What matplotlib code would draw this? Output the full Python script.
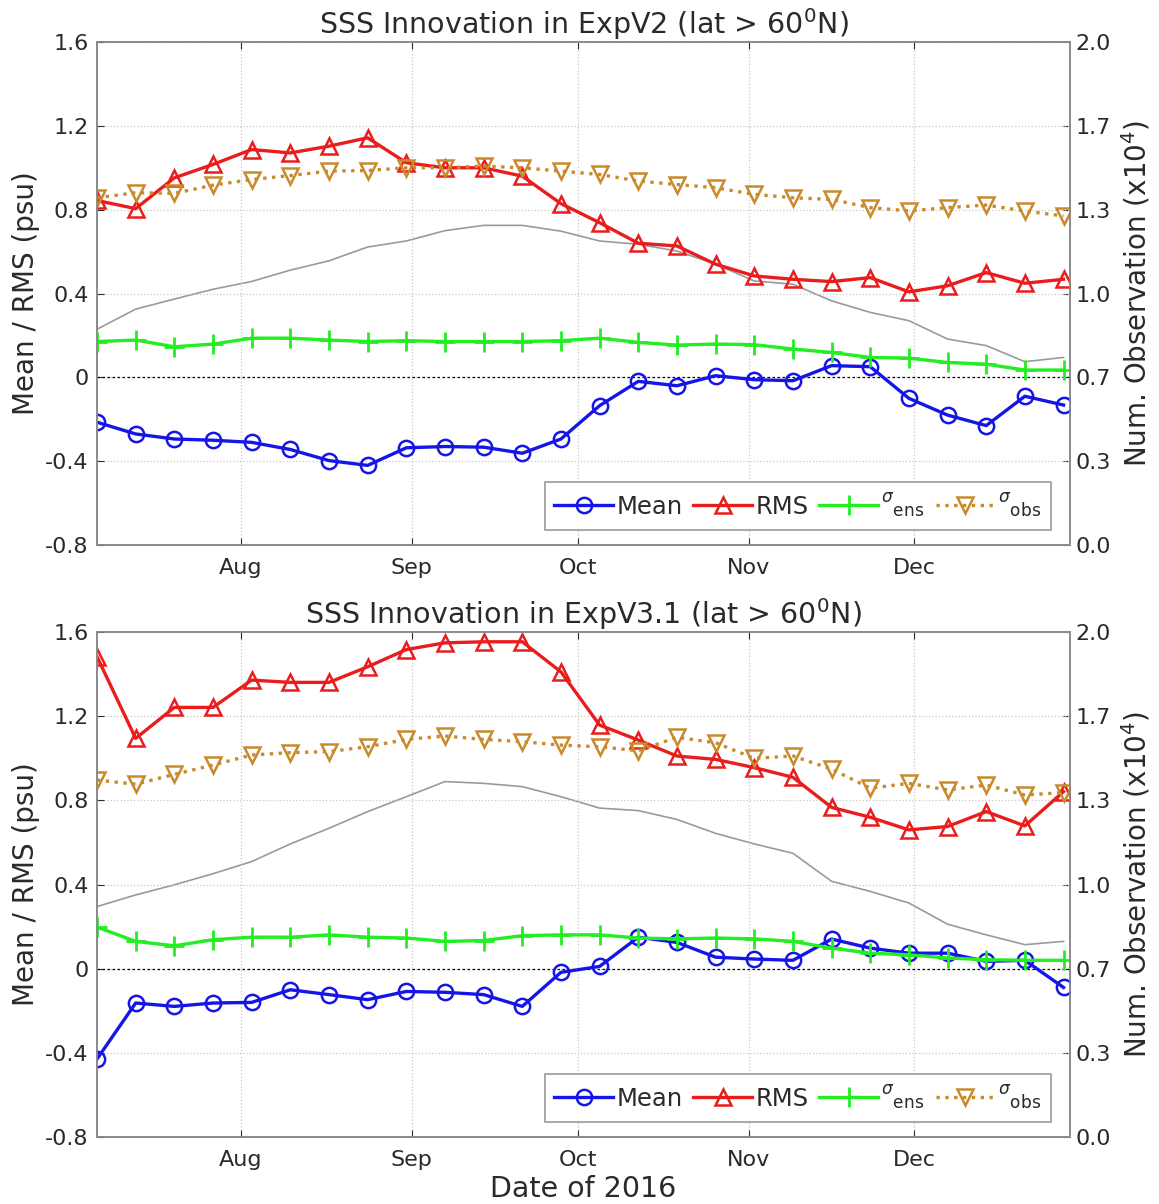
import numpy as np
import pandas as pd
import matplotlib
matplotlib.use('Agg')
import matplotlib.pyplot as plt
import matplotlib.dates as mdates

# weekly analysis dates (2016)
dates = pd.date_range('2016-07-06', periods=26, freq='7D')

# ExpV2 (top panel)
v2_mean = [-0.214, -0.27, -0.294, -0.30, -0.31, -0.344, -0.397, -0.42, -0.336, -0.33, -0.333, -0.362, -0.294,
           -0.135, -0.019, -0.04, 0.008, -0.011, -0.016, 0.056, 0.051, -0.10, -0.18, -0.23, -0.09, -0.132]
v2_rms = [0.844, 0.805, 0.952, 1.016, 1.087, 1.071, 1.103, 1.143, 1.024, 1.0, 1.0, 0.96, 0.829,
          0.738, 0.64, 0.627, 0.54, 0.484, 0.468, 0.457, 0.476, 0.408, 0.437, 0.50, 0.449, 0.468]
v2_ens = [0.171, 0.178, 0.146, 0.159, 0.187, 0.187, 0.178, 0.171, 0.175, 0.171, 0.171, 0.171, 0.175,
          0.187, 0.167, 0.154, 0.159, 0.156, 0.135, 0.119, 0.095, 0.092, 0.071, 0.063, 0.035, 0.035]
v2_obs = [0.857, 0.881, 0.878, 0.917, 0.944, 0.963, 0.984, 0.987, 1.0, 1.0, 1.008, 1.0, 0.984,
          0.968, 0.937, 0.92, 0.905, 0.873, 0.857, 0.849, 0.81, 0.794, 0.81, 0.822, 0.794, 0.77]
v2_nobs = [0.858, 0.938, 0.978, 1.017, 1.048, 1.093, 1.13, 1.185, 1.209, 1.25, 1.271, 1.271, 1.248,
           1.209, 1.196, 1.169, 1.117, 1.05, 1.037, 0.971, 0.925, 0.892, 0.819, 0.793, 0.729, 0.746]

# ExpV3.1 (bottom panel)
v3_mean = [-0.429, -0.163, -0.179, -0.163, -0.16, -0.10, -0.123, -0.147, -0.108, -0.112, -0.123, -0.179, -0.017,
           0.011, 0.15, 0.125, 0.055, 0.046, 0.04, 0.141, 0.098, 0.074, 0.074, 0.035, 0.04, -0.089]
v3_rms = [1.483, 1.095, 1.242, 1.242, 1.372, 1.361, 1.361, 1.435, 1.517, 1.549, 1.554, 1.554, 1.411,
          1.158, 1.087, 1.011, 0.995, 0.956, 0.91, 0.767, 0.72, 0.66, 0.676, 0.747, 0.679, 0.842]
v3_ens = [0.198, 0.13, 0.109, 0.138, 0.15, 0.15, 0.161, 0.15, 0.146, 0.13, 0.134, 0.157, 0.161,
          0.161, 0.146, 0.142, 0.146, 0.142, 0.13, 0.098, 0.074, 0.066, 0.051, 0.043, 0.04, 0.04]
v3_obs = [0.897, 0.877, 0.924, 0.968, 1.016, 1.027, 1.032, 1.055, 1.09, 1.106, 1.09, 1.079, 1.063,
          1.055, 1.036, 1.10, 1.074, 1.0, 1.011, 0.949, 0.858, 0.881, 0.85, 0.873, 0.826, 0.837]
v3_nobs = [0.913, 0.959, 0.999, 1.043, 1.091, 1.161, 1.223, 1.289, 1.348, 1.408, 1.401, 1.388, 1.348,
           1.303, 1.293, 1.258, 1.203, 1.161, 1.124, 1.013, 0.973, 0.927, 0.843, 0.801, 0.762, 0.775]

left_ticks = [-0.8, -0.4, 0, 0.4, 0.8, 1.2, 1.6]

plt.rcParams['font.family'] = 'DejaVu Sans'
plt.rcParams['mathtext.fontset'] = 'dejavusans'

fig = plt.figure(figsize=(11.59, 12.04), dpi=100)
ax_top = fig.add_axes([0.0837, 0.5473, 0.8395, 0.4178])
ax_bot = fig.add_axes([0.0837, 0.0556, 0.8395, 0.4194])

spine_col = '#8a8a8a'
txt_col = '#2a2a2a'


def draw_panel(ax, mean, rms, ens, obs, nobs, title, show_xlabel):
    ax2 = ax.twinx()
    ax2.plot(dates, nobs, color='#9a9a9a', lw=1.2)
    ax2.set_ylim(0, 2.0)
    ax2.set_yticks(np.linspace(0, 2.0, 7))
    ax2.set_yticklabels([f'{v:.1f}' for v in np.linspace(0, 2.0, 7)])
    ax2.set_ylabel('Num. Observation (x10$^4$)', fontsize=20, labelpad=6, color=txt_col)
    ax2.tick_params(direction='in', labelsize=16, colors=txt_col, length=5, pad=4)

    # keep main series above the twin axis
    ax.set_zorder(ax2.get_zorder() + 1)
    ax.patch.set_visible(False)

    ax.axhline(0, color='black', lw=0.9, ls=(0, (2, 2)))
    ax.plot(dates, mean, '-o', color='#1515e8', lw=2.4, ms=11, mfc='none', mew=1.8, label='Mean')
    ax.plot(dates, rms, '-^', color='#ea1c1c', lw=2.4, ms=11, mfc='none', mew=1.8, label='RMS')
    ax.plot(dates, ens, '-+', color='#22ee22', lw=2.4, ms=14, mew=2.0,
            label=r'$^{\sigma}{}_{\mathrm{ens}}$')
    ax.plot(dates, obs, ':v', color='#c98a2c', lw=2.4, ms=11, mfc='none', mew=1.8,
            label=r'$^{\sigma}{}_{\mathrm{obs}}$')

    ax.set_xlim(dates[0], dates[-1] + pd.Timedelta(hours=28))
    ax.set_ylim(-0.8, 1.6)
    ax.set_yticks(left_ticks)
    ax.set_yticklabels(['-0.8', '-0.4', '0', '0.4', '0.8', '1.2', '1.6'])
    ax.xaxis.set_major_locator(mdates.MonthLocator())
    ax.xaxis.set_major_formatter(mdates.DateFormatter('%b'))
    ax.tick_params(direction='in', labelsize=16, colors=txt_col, length=5, pad=6)
    ax.tick_params(axis='x', top=True, pad=9)
    ax.grid(True, ls=':', color='#c8c8c8', lw=0.9)
    ax.set_ylabel('Mean / RMS (psu)', fontsize=20, labelpad=4, color=txt_col)
    ax.set_title(title, fontsize=20.5, pad=5, color=txt_col)
    if show_xlabel:
        ax.set_xlabel('Date of 2016', fontsize=20.5, labelpad=4, color=txt_col)

    for a in (ax, ax2):
        for s in a.spines.values():
            s.set_color(spine_col)
            s.set_linewidth(1.2)

    leg = ax.legend(loc='lower right', ncol=4, fontsize=17.5, handlelength=2.4,
                    handletextpad=0.15, columnspacing=0.45, borderpad=0.4,
                    fancybox=False, framealpha=1, borderaxespad=0,
                    bbox_to_anchor=(0.98, 0.03))
    leg.get_frame().set_edgecolor('#9a9a9a')
    leg.get_frame().set_linewidth(1.2)
    for t in leg.get_texts():
        t.set_color(txt_col)


draw_panel(ax_top, v2_mean, v2_rms, v2_ens, v2_obs, v2_nobs,
           r'SSS Innovation in ExpV2 (lat > 60$^{\mathrm{0}}$N)', False)
draw_panel(ax_bot, v3_mean, v3_rms, v3_ens, v3_obs, v3_nobs,
           r'SSS Innovation in ExpV3.1 (lat > 60$^{\mathrm{0}}$N)', True)

fig.savefig('out.png', dpi=100)
